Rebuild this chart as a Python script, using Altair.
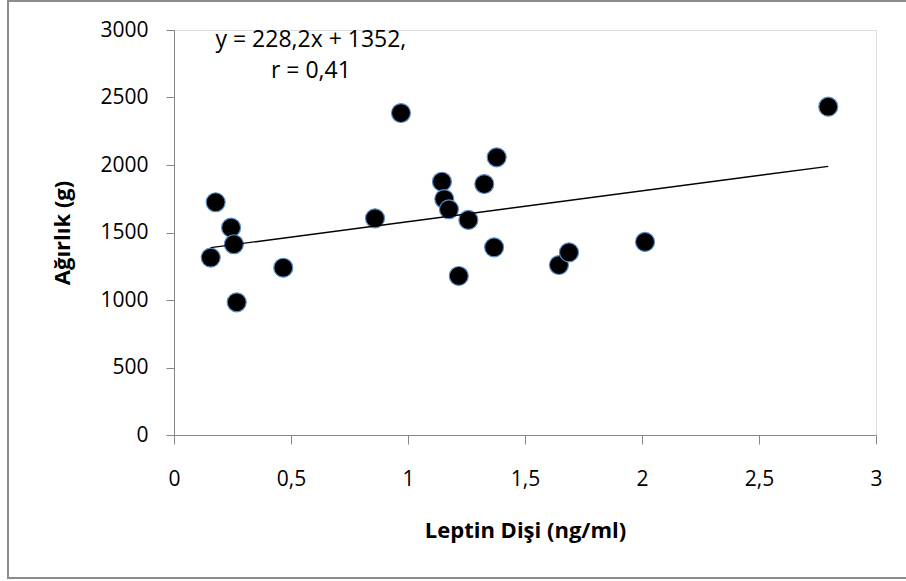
import altair as alt
import pandas as pd

# Leptin (ng/ml) vs weight (g)
leptin = [0.157, 0.178, 0.244, 0.256, 0.268, 0.467, 0.859, 0.970, 1.145, 1.155,
          1.175, 1.217, 1.258, 1.326, 1.368, 1.379, 1.645, 1.688, 2.013, 2.796]
weight = [1314, 1724, 1536, 1413, 983, 1239, 1605, 2385, 1876, 1748,
          1672, 1178, 1593, 1859, 1390, 2057, 1259, 1353, 1430, 2432]

# trend line end points
trend_x = [0.157, 2.796]
trend_y = [1388, 1990]

annot_text = ["y = 228,2x + 1352,", "r = 0,41"]
annot_x = [0.585, 0.585]
annot_y = [2925, 2700]

x_ticks = [0, 0.5, 1, 1.5, 2, 2.5, 3]
y_ticks = [0, 500, 1000, 1500, 2000, 2500, 3000]

pts = pd.DataFrame({"x": leptin, "y": weight})
trend = pd.DataFrame({"x": trend_x, "y": trend_y})
annot = pd.DataFrame({"x": annot_x, "y": annot_y, "t": annot_text})

FONT = "Open Sans"
W, H = 702, 405

xs = alt.Scale(domain=[0, 3], nice=False, zero=False)
ys = alt.Scale(domain=[0, 3000], nice=False)

xaxis = alt.Axis(
    values=x_ticks, labelExpr="replace(format(datum.value, ''), '.', ',')",
    labelFlush=False, grid=False, domainColor="#868686", tickColor="#868686",
    tickSize=9, labelFont=FONT, labelFontSize=21, labelColor="#000",
    labelPadding=24,
    title="Leptin Dişi (ng/ml)", titleFont=FONT, titleFontSize=22,
    titleFontWeight="bold", titleColor="#000", titlePadding=31,
)
yaxis = alt.Axis(
    values=y_ticks, format="d", labelFlush=False, grid=False,
    domainColor="#868686", tickColor="#868686", tickSize=8,
    labelFont=FONT, labelFontSize=21, labelColor="#000", labelPadding=18,
    title="Ağırlık (g)", titleFont=FONT, titleFontSize=22, titleFontWeight="bold",
    titleColor="#000", titleAngle=-90, titleX=-112, titleY=H / 2,
    titleAlign="center", titleBaseline="middle",
)

frame = alt.Chart(pts).mark_rect(
    fillOpacity=0, stroke="#8c8c8c", strokeWidth=2
).encode(
    x=alt.value(8 - 174), x2=alt.value(W + 60),
    y=alt.value(1 - 30), y2=alt.value(578 - 30),
)

points = alt.Chart(pts).mark_circle(
    size=360, color="black", opacity=1, stroke="#5b8dc9", strokeWidth=1.2
).encode(
    x=alt.X("x:Q", scale=xs, axis=xaxis),
    y=alt.Y("y:Q", scale=ys, axis=yaxis),
)

line = alt.Chart(trend).mark_line(color="black", strokeWidth=1.4).encode(
    x=alt.X("x:Q", scale=xs), y=alt.Y("y:Q", scale=ys)
)

text = alt.Chart(annot).mark_text(
    font=FONT, fontSize=23, color="#000", align="center", baseline="middle"
).encode(
    x=alt.X("x:Q", scale=xs), y=alt.Y("y:Q", scale=ys), text="t:N"
)

chart = alt.layer(points, line, text, frame).properties(
    width=W, height=H,
    autosize=alt.AutoSizeParams(type="none"),
    padding={"left": 174, "top": 30, "right": 30, "bottom": 146},
).configure_view(stroke=None).configure(background="white")

chart.save("out.html", embed_options={"renderer": "svg", "actions": False})
